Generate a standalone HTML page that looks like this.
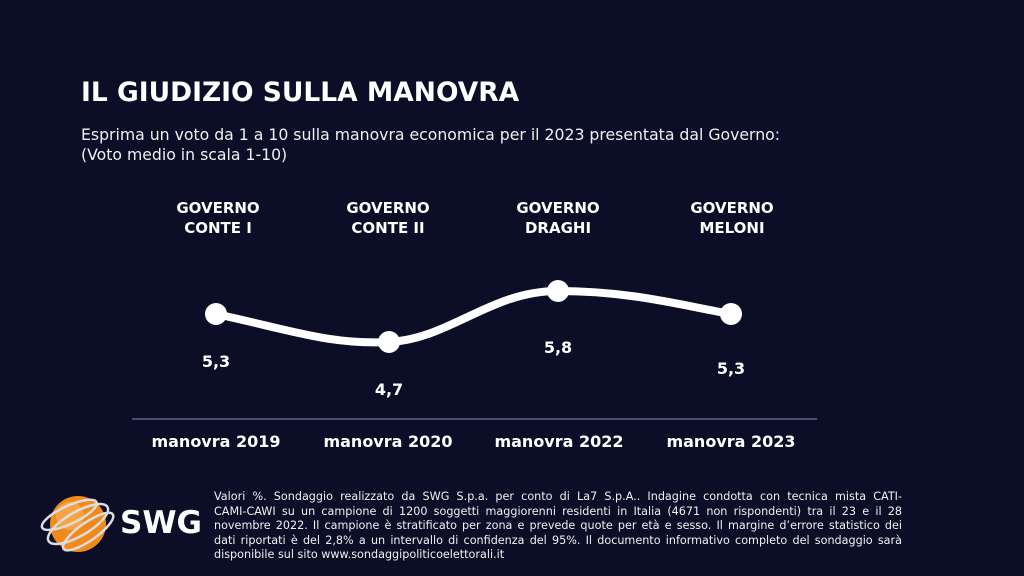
<!DOCTYPE html>
<html><head><meta charset="utf-8"><style>
body{margin:0;width:1024px;height:576px;background:#0b0e26;overflow:hidden;font-family:"DejaVu Sans","Liberation Sans",sans-serif;color:#fff;position:relative}
.a{position:absolute;white-space:nowrap}
.t{left:81px;top:77px;font-weight:bold;font-size:26.5px}
.s{left:81px;top:125px;font-size:15.7px;line-height:20px;color:#f0f0f0}
.h{font-weight:bold;font-size:15px;line-height:20px;text-align:center;width:160px}
.v{font-weight:bold;font-size:16px;width:80px;text-align:center}
.m{font-weight:bold;font-size:16px;width:170px;text-align:center}
.f{left:214px;top:490px;width:688px;font-size:11.2px;line-height:14.6px;color:#f0f0f0}
.f div{text-align:justify;text-align-last:justify;white-space:nowrap}
.f div.l{text-align-last:left}
</style></head><body>
<div class="a t">IL GIUDIZIO SULLA MANOVRA</div>
<div class="a s">Esprima un voto da 1 a 10 sulla manovra economica per il 2023 presentata dal Governo:<br>(Voto medio in scala 1-10)</div>
<div class="a h" style="left:138px;top:198px">GOVERNO<br>CONTE I</div>
<div class="a h" style="left:308px;top:198px">GOVERNO<br>CONTE II</div>
<div class="a h" style="left:478px;top:198px">GOVERNO<br>DRAGHI</div>
<div class="a h" style="left:652px;top:198px">GOVERNO<br>MELONI</div>
<svg class="a" style="left:0;top:0" width="1024" height="576">
<path d="M216,314 C290,330 330,345 389,342 C450,339 490,291 558,291 C630,291 680,305 731,314" fill="none" stroke="#fff" stroke-width="8"/>
<circle cx="216" cy="314" r="11" fill="#fff"/><circle cx="389" cy="342" r="11" fill="#fff"/>
<circle cx="558" cy="291" r="11" fill="#fff"/><circle cx="731" cy="314" r="11" fill="#fff"/>
<line x1="132" y1="419" x2="817" y2="419" stroke="#4a4e6a" stroke-width="2"/>
<g transform="translate(78,524)">
<circle r="28" fill="#f08a1c"/>
<circle cx="-8" cy="-8" r="14" fill="#f7a544"/>
<g fill="none" stroke="#ddd" stroke-width="2.5">
<ellipse rx="34" ry="12" transform="rotate(-30)"/>
<ellipse rx="30" ry="9" transform="rotate(-25) translate(-4,-12)"/>
<ellipse rx="30" ry="9" transform="rotate(-35) translate(4,12)"/>
</g></g>
</svg>
<div class="a" style="left:120px;top:505px;font-weight:bold;font-size:31px">SWG</div>
<div class="a v" style="left:176px;top:352px">5,3</div>
<div class="a v" style="left:349px;top:380px">4,7</div>
<div class="a v" style="left:518px;top:338px">5,8</div>
<div class="a v" style="left:691px;top:359px">5,3</div>
<div class="a m" style="left:131px;top:432px">manovra 2019</div>
<div class="a m" style="left:303px;top:432px">manovra 2020</div>
<div class="a m" style="left:474px;top:432px">manovra 2022</div>
<div class="a m" style="left:646px;top:432px">manovra 2023</div>
<div class="a f">
<div>Valori %. Sondaggio realizzato da SWG S.p.a. per conto di La7 S.p.A.. Indagine condotta con tecnica mista CATI-</div>
<div>CAMI-CAWI su un campione di 1200 soggetti maggiorenni residenti in Italia (4671 non rispondenti) tra il 23 e il 28</div>
<div>novembre 2022. Il campione è stratificato per zona e prevede quote per età e sesso. Il margine d’errore statistico dei</div>
<div>dati riportati è del 2,8% a un intervallo di confidenza del 95%. Il documento informativo completo del sondaggio sarà</div>
<div class="l">disponibile sul sito www.sondaggipoliticoelettorali.it</div>
</div>
</body></html>
